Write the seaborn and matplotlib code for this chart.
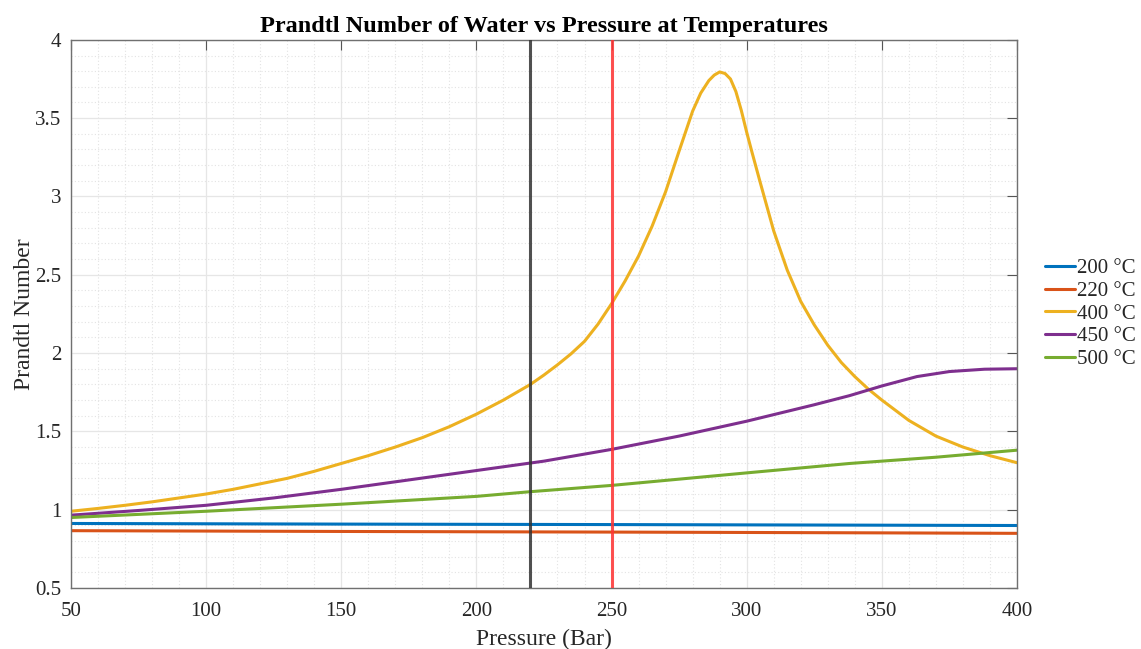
import numpy as np
import pandas as pd
import matplotlib
matplotlib.use("Agg")
import matplotlib.pyplot as plt
from matplotlib.ticker import MultipleLocator
import seaborn as sns

# ---- data ----
p_200 = [50, 150, 250, 350, 400]
pr_200 = [0.912, 0.908, 0.905, 0.901, 0.899]

p_220 = [50, 150, 250, 350, 400]
pr_220 = [0.866, 0.861, 0.857, 0.852, 0.849]

p_400 = [50, 60, 70, 80, 90, 100, 110, 120, 130, 140, 150, 160, 170, 180, 190,
         200, 210, 220, 225, 230, 235, 240, 245, 250, 255, 260, 265, 270, 275,
         280, 283, 286, 288, 290, 292, 294, 296, 298, 300, 302, 305, 310, 315,
         320, 325, 330, 335, 340, 345, 350, 360, 370, 380, 390, 400]
pr_400 = [0.99, 1.008, 1.028, 1.05, 1.075, 1.10, 1.13, 1.165, 1.20, 1.245,
          1.295, 1.345, 1.40, 1.46, 1.53, 1.61, 1.70, 1.80, 1.86, 1.925, 1.995,
          2.075, 2.185, 2.315, 2.46, 2.62, 2.81, 3.03, 3.29, 3.545, 3.66, 3.74,
          3.775, 3.795, 3.785, 3.75, 3.67, 3.55, 3.41, 3.28, 3.09, 2.78, 2.53,
          2.33, 2.18, 2.05, 1.94, 1.85, 1.77, 1.70, 1.57, 1.47, 1.40, 1.345,
          1.30]

p_450 = [50, 75, 100, 125, 150, 175, 200, 225, 250, 275, 300, 325, 338, 350,
         363, 375, 388, 400]
pr_450 = [0.965, 0.995, 1.028, 1.075, 1.13, 1.19, 1.25, 1.31, 1.385, 1.47,
          1.565, 1.67, 1.728, 1.79, 1.85, 1.882, 1.897, 1.9]

p_500 = [50, 100, 150, 200, 220, 250, 275, 300, 338, 370, 400]
pr_500 = [0.95, 0.99, 1.035, 1.085, 1.115, 1.155, 1.195, 1.235, 1.295, 1.335, 1.38]

labels = ["200 °C", "220 °C", "400 °C", "450 °C", "500 °C"]
colors = ["#0072BD", "#D95319", "#EDB120", "#7E2F8E", "#77AC30"]
vlines = [220, 250]
vline_colors = ["#333333", "#FF3333"]

xs = [p_200, p_220, p_400, p_450, p_500]
ys = [pr_200, pr_220, pr_400, pr_450, pr_500]
df = pd.concat([pd.DataFrame({"Pressure": x, "Pr": y, "T": lab})
                for x, y, lab in zip(xs, ys, labels)], ignore_index=True)

sns.set_theme(style="white")
plt.rcParams["font.family"] = ["Liberation Serif", "DejaVu Serif"]

fig = plt.figure(figsize=(11.41, 6.49), dpi=100)
ax = fig.add_axes([0.0622, 0.094, 0.8291, 0.8446])

sns.lineplot(data=df, x="Pressure", y="Pr", hue="T", hue_order=labels,
             palette=colors, linewidth=2.2, ax=ax, sort=False,
             estimator=None, legend=True)

for v, c in zip(vlines, vline_colors):
    ax.axvline(v, color=c, linewidth=2.2, alpha=0.85, zorder=3)

ax.set_xlim(50, 400)
ax.set_ylim(0.5, 4)
ax.xaxis.set_major_locator(MultipleLocator(50))
ax.xaxis.set_minor_locator(MultipleLocator(10))
ax.yaxis.set_major_locator(MultipleLocator(0.5))
ax.yaxis.set_minor_locator(MultipleLocator(0.1))
ax.set_yticks([0.5, 1, 1.5, 2, 2.5, 3, 3.5, 4])
ax.set_yticklabels(["0.5", "1", "1.5", "2", "2.5", "3", "3.5", "4"])

ax.grid(which="major", color="#e6e6e6", linewidth=0.9, linestyle="-")
ax.grid(which="minor", color="#e3e3e3", linewidth=0.8, linestyle=(0, (1, 2)))
ax.set_axisbelow(True)

ax.tick_params(which="major", direction="in", length=7, width=0.8,
               color="#555555", top=True, right=True, labelsize=15,
               labelcolor="#262626")
ax.tick_params(axis="x", which="major", pad=10)
ax.tick_params(axis="y", which="major", pad=7)
ax.tick_params(which="minor", length=0, top=True, right=True)
for s in ax.spines.values():
    s.set_color("#707070")
    s.set_linewidth(1.0)

ax.set_xlabel("Pressure (Bar)", fontsize=17, color="#262626", labelpad=6)
ax.set_ylabel("Prandtl Number", fontsize=17, color="#262626", labelpad=0)
ax.set_title("Prandtl Number of Water vs Pressure at Temperatures",
             fontsize=17.5, fontweight="bold", color="black", pad=6)

leg = ax.legend(loc="center left", bbox_to_anchor=(1.03, 0.5), frameon=False,
                fontsize=15, handlelength=1.4, handletextpad=0.1,
                labelspacing=0.15, borderaxespad=0, borderpad=0)
for t in leg.get_texts():
    t.set_color("#262626")
for h in leg.get_lines():
    h.set_linewidth(2.2)

fig.savefig("out.png", dpi=100)
